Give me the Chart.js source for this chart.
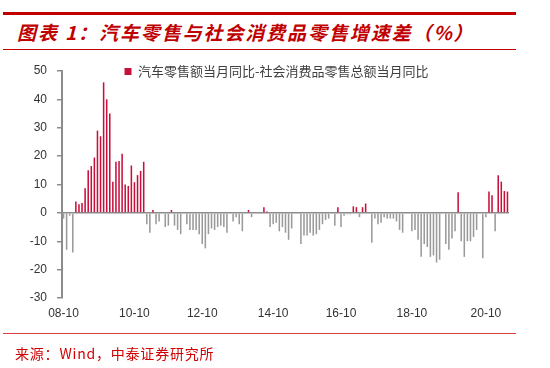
<!DOCTYPE html>
<html>
<head>
<meta charset="utf-8">
<script src="https://cdn.jsdelivr.net/npm/chart.js@4.4.0/dist/chart.umd.min.js"></script>
<style>
  html, body { margin: 0; padding: 0; background: #fff; }
  body { width: 550px; height: 368px; position: relative; overflow: hidden; font-family: "Noto Sans CJK SC", sans-serif; }
  canvas { position: absolute; left: 0; top: 0; }
  .rule { position: absolute; left: 3px; width: 513px; background: #c00000; }
  #title { position: absolute; left: 17px; top: 19px; color: #c00000; font-size: 19px; font-weight: bold; font-style: italic; letter-spacing: 1.9px; line-height: 26px; white-space: nowrap; }
  #source { position: absolute; left: 15px; top: 343px; color: #d00000; font-size: 14px; letter-spacing: 0.8px; line-height: 20px; white-space: nowrap; }
</style>
</head>
<body>
<div class="rule" style="top:12px;height:3px;"></div>
<div id="title">图表 1：汽车零售与社会消费品零售增速差（%）</div>
<div class="rule" style="top:49px;height:1px;"></div>
<canvas id="diffChart" width="550" height="368"></canvas>
<div class="rule" style="top:333px;height:1px;background:#d84040;"></div>
<div id="source">来源：Wind，中泰证券研究所</div>
<script>
// monthly categories 08-10 .. 21-05, some January months are not in the series
const firstMonth = [2008, 10];
const lastMonth = [2021, 5];
const omittedMonths = ['10-01', '11-01', '12-01', '14-01', '15-01', '16-01', '18-01'];
const tickLabels = ['08-10', '10-10', '12-10', '14-10', '16-10', '18-10', '20-10'];
const seriesName = '汽车零售额当月同比-社会消费品零售总额当月同比';

// difference, % points (null = no bar)
const diffValues = [
  -2, -13, -1, -14, 4, 3, 3.5, 8.7, 15, 16.5,
  19.5, 29, 27, 46, 40, 35, 11, 18, 18.3, 20.8,
  10, 9.5, 16.7, 10.8, 13.3, 14.8, 18, -4, -7, 1,
  -4, -3, null, -5, -4.5, 1, -4.5, -6, -7.5, null,
  -4, -6, -6, -6, -7.5, -11, -12.5, -7.5, -5.5, -6,
  -5, -4.5, -5, -7, null, -3, -1.5, -4, -6.5, null,
  1, -1.5, null, null, null, 2, 0.5, -5, -4, -3.5,
  -6.5, -5, -7, -9.5, -5.5, null, null, -11, -8, -8,
  -7, -8, -7.5, -6, -4, -2.5, -2, null, -4.5, 2,
  -5, -1, -0.5, -0.5, 2.3, 2, -1.5, 2, 3.3, null,
  -10.5, -2, -4, -3.5, -1.5, -2, -2, -2, -3, -6,
  -7, null, null, -6.5, -6, -9.5, -15.5, -11, -12, -15.5,
  -15, -17.5, -16.5, null, -11, -13, -9, -6.5, 7.3, -10,
  -15.5, -10, -10, -8.5, -6, null, -16, -1.5, 7.5, 6.2,
  -6.5, 13.3, 11, 7.7, 7.5
];

const posColor = '#c8103c';
const negColor = '#9a9a9a';
const axisColor = '#8c8c8c';

const months = [];
for (let y = firstMonth[0], m = firstMonth[1]; y < lastMonth[0] || (y === lastMonth[0] && m <= lastMonth[1]); ) {
  const key = String(y % 100).padStart(2, '0') + '-' + String(m).padStart(2, '0');
  if (!omittedMonths.includes(key)) months.push(key);
  m++;
  if (m > 12) { m = 1; y++; }
}

// move the legend down into the plot, like the original
const legendShift = {
  id: 'legendShift',
  afterLayout(chart) {
    const lg = chart.legend;
    const dx = 22, dy = 17;
    lg.left += dx; lg.right += dx;
    lg.top += dy; lg.bottom += dy;
  }
};

new Chart(document.getElementById('diffChart').getContext('2d'), {
  type: 'bar',
  data: {
    labels: months,
    datasets: [{
      label: seriesName,
      data: diffValues,
      backgroundColor: (ctx) => (ctx.raw >= 0 ? posColor : negColor),
      barPercentage: 0.5,
      categoryPercentage: 1.0
    }]
  },
  options: {
    responsive: false,
    animation: false,
    layout: { padding: { left: 0, top: 42, right: 41, bottom: 40 } },
    plugins: {
      tooltip: { enabled: false },
      legend: {
        position: 'top',
        align: 'center',
        labels: {
          boxWidth: 7,
          boxHeight: 7,
          padding: 6,
          color: '#404040',
          font: { family: '"Noto Sans CJK SC", sans-serif', size: 13 },
          generateLabels: () => [{
            text: seriesName, fillStyle: posColor, strokeStyle: posColor,
            lineWidth: 0, hidden: false, datasetIndex: 0, fontColor: '#404040'
          }]
        }
      }
    },
    scales: {
      x: {
        grid: { display: false, drawTicks: false },
        border: { display: false },
        ticks: {
          autoSkip: false,
          maxRotation: 0,
          padding: 8,
          color: '#333',
          font: { family: '"Liberation Sans", Arial, sans-serif', size: 12 },
          callback: function (val) {
            const lab = this.getLabelForValue(val);
            return tickLabels.includes(lab) ? lab : '';
          }
        },
        afterFit: (scale) => { scale.height = 30; }
      },
      y: {
        min: -30,
        max: 50,
        ticks: {
          stepSize: 10,
          padding: 10,
          color: '#333',
          font: { family: '"Liberation Sans", Arial, sans-serif', size: 12 }
        },
        grid: {
          color: (ctx) => (ctx.tick && ctx.tick.value === 0 ? axisColor : 'rgba(0,0,0,0)'),
          lineWidth: 1.5,
          tickColor: axisColor,
          tickLength: 5
        },
        border: { color: axisColor, width: 2 },
        afterFit: (scale) => { scale.width = 62; }
      }
    }
  },
  plugins: [legendShift]
});
</script>
</body>
</html>
